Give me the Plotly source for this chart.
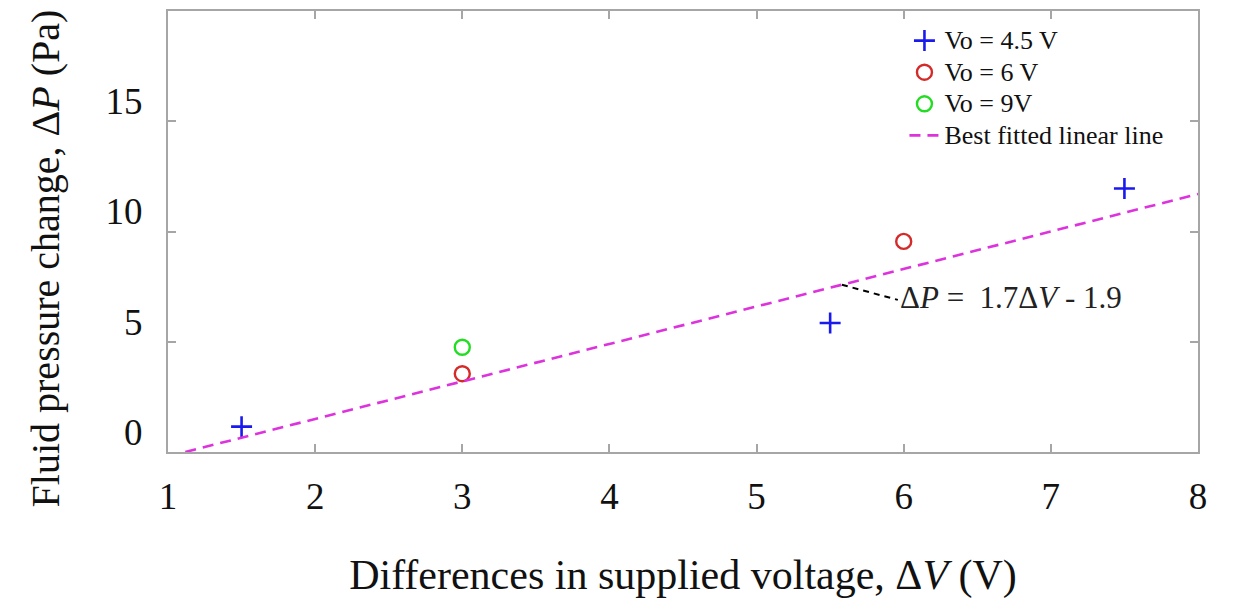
import plotly.graph_objects as go

# data
v45_x = [1.5, 5.5, 7.5]
v45_y = [1.15, 5.85, 11.95]
v6_x = [3.0, 6.0]
v6_y = [3.55, 9.55]
v9_x = [3.0]
v9_y = [4.75]
fit_slope = 1.7
fit_intercept = -1.9
fit_x = [1.9 / 1.7, 8.0]
fit_y = [fit_slope * x + fit_intercept for x in fit_x]
x_ticks = [1, 2, 3, 4, 5, 6, 7, 8]
y_ticks = [0, 5, 10, 15]
series_names = ["Vo = 4.5 V", "Vo = 6 V", "Vo = 9V", "Best fitted linear line"]

FONT = "Liberation Serif, Times New Roman, serif"
AX = "#a6a6a6"


def lg(s):
    return "<span style='font-size:26px'>" + s + "</span>"


fig = go.Figure()
fig.add_trace(go.Scatter(x=v45_x, y=v45_y, mode="markers", name=lg(series_names[0]),
                         marker=dict(symbol="cross-thin", size=15, line=dict(color="#1a1aee", width=2.6))))
fig.add_trace(go.Scatter(x=v6_x, y=v6_y, mode="markers", name=lg(series_names[1]),
                         marker=dict(symbol="circle-open", size=15, color="#d42a2a", line=dict(width=2.4))))
fig.add_trace(go.Scatter(x=v9_x, y=v9_y, mode="markers", name=lg(series_names[2]),
                         marker=dict(symbol="circle-open", size=15, color="#22dd22", line=dict(width=2.4))))
fig.add_trace(go.Scatter(x=fit_x, y=fit_y, mode="lines", name=lg(series_names[3]),
                         line=dict(color="#dd33dd", width=2.6, dash="11px,7px")))

# annotation leader line
ax0 = 5.58
fig.add_trace(go.Scatter(x=[ax0, 5.96], y=[fit_slope * ax0 + fit_intercept, 6.9], mode="lines",
                         line=dict(color="black", width=2, dash="6px,5px"), showlegend=False, hoverinfo="skip"))
fig.add_annotation(x=5.96, y=7.0, xanchor="left", yanchor="middle", showarrow=False,
                   text="Δ<i>P</i> =  1.7Δ<i>V</i> - 1.9", font=dict(family=FONT, size=31, color="#222"))

# y axis title as rotated annotation
fig.add_annotation(xref="paper", yref="paper", x=-0.118, y=0.44, xanchor="center", yanchor="middle",
                   textangle=-90, showarrow=False,
                   text="Fluid pressure change, Δ<i>P</i> (Pa)", font=dict(family=FONT, size=40, color="#111"))

axis_common = dict(showline=True, linecolor=AX, linewidth=2, mirror="ticks", ticks="inside",
                   ticklen=8, tickcolor=AX, tickwidth=1.5, showgrid=False, zeroline=False,
                   tickfont=dict(family=FONT, size=37, color="#111"))

fig.update_xaxes(range=[1, 8], tickvals=x_ticks, ticklabelstandoff=11,
                 title=dict(text="Differences in supplied voltage, Δ<i>V</i> (V)",
                            font=dict(family=FONT, size=42, color="#111"), standoff=44),
                 **axis_common)
fig.update_yaxes(range=[0, 20], tickvals=y_ticks, ticklabelstandoff=16, ticklabelshift=-20,
                 **axis_common)

fig.update_layout(
    width=1225, height=591,
    margin=dict(l=160, r=35, t=3, b=147, autoexpand=False),
    paper_bgcolor="white", plot_bgcolor="white",
    showlegend=True,
    legend=dict(x=0.715, y=0.98, xanchor="left", yanchor="top", bgcolor="rgba(0,0,0,0)",
                font=dict(family=FONT, size=22, color="#111"), tracegroupgap=0, itemwidth=30),
)

fig.write_html("out.html")
